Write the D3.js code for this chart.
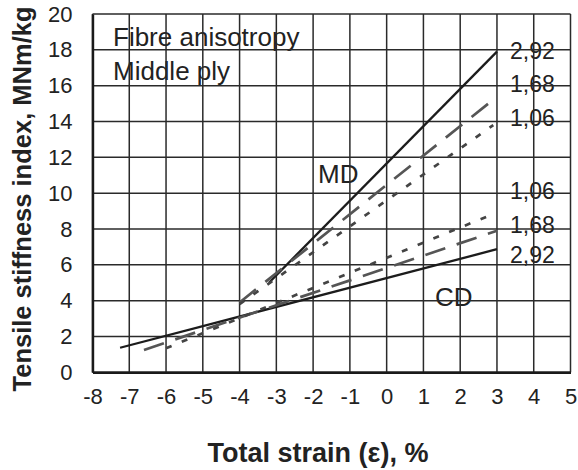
<!DOCTYPE html>
<html>
<head>
<meta charset="utf-8">
<script src="https://cdn.jsdelivr.net/npm/d3@7"></script>
<style>
  html, body { margin: 0; padding: 0; background: #fff; }
  svg { display: block; }
  text { font-family: "Liberation Sans", Arial, Helvetica, sans-serif; fill: #222; }
</style>
</head>
<body>
<svg id="chart" width="578" height="470"></svg>
<script>
// ---- data ----
const xTicks = [-8, -7, -6, -5, -4, -3, -2, -1, 0, 1, 2, 3, 4, 5];
const yTicks = [0, 2, 4, 6, 8, 10, 12, 14, 16, 18, 20];
const anisotropy = ["2,92", "1,68", "1,06"];

// MD curves (strain %, tensile stiffness index)
const md292x = [-3.2, 3.0];
const md292y = [5.0, 17.9];
const md168x = [-4.0, 2.95];
const md168y = [3.9, 15.3];
const md106x = [-4.0, 2.9];
const md106y = [3.8, 13.8];
// CD curves
const cd292x = [-7.25, 3.0];
const cd292y = [1.37, 6.87];
const cd168x = [-6.6, 3.0];
const cd168y = [1.25, 7.9];
const cd106x = [-6.0, 2.95];
const cd106y = [1.34, 8.88];

const series = [
  { dir: "MD", label: "2,92", xs: md292x, ys: md292y, style: "solid" },
  { dir: "MD", label: "1,68", xs: md168x, ys: md168y, style: "long" },
  { dir: "MD", label: "1,06", xs: md106x, ys: md106y, style: "short" },
  { dir: "CD", label: "2,92", xs: cd292x, ys: cd292y, style: "solid" },
  { dir: "CD", label: "1,68", xs: cd168x, ys: cd168y, style: "long" },
  { dir: "CD", label: "1,06", xs: cd106x, ys: cd106y, style: "short" }
];

// ---- layout ----
const svg = d3.select("#chart");
const pL = 92.5, pR = 570.5, pT = 14, pB = 372.3;
const x = d3.scaleLinear().domain([-8, 5]).range([pL, pR]);
const y = d3.scaleLinear().domain([0, 20]).range([pB, pT]);

const styles = {
  solid: { stroke: "#1c1c1c", width: 2.3, dash: null },
  long:  { stroke: "#555", width: 2.7, dash: "21,12" },
  short: { stroke: "#444", width: 2.7, dash: "6,11" }
};

// annotations (under grid, as in original)
const ann = svg.append("g").style("font-size", "26px");
ann.append("text").attr("x", 113).attr("y", 46).text("Fibre anisotropy");
ann.append("text").attr("x", 113).attr("y", 80).text("Middle ply");
ann.append("text").attr("x", 318).attr("y", 183).text("MD");
ann.append("text").attr("x", 435).attr("y", 306).text("CD");

// right-hand labels
const lab = svg.append("g").style("font-size", "23px");
const mdLab = [59, 92, 126];
const cdLab = [263, 233, 199];
anisotropy.forEach((a, i) => {
  lab.append("text").attr("x", 510).attr("y", mdLab[i]).text(a);
  lab.append("text").attr("x", 510).attr("y", cdLab[i]).text(a);
});

// grid
const grid = svg.append("g").attr("stroke", "#2a2a2a").attr("stroke-width", 1.5);
grid.selectAll("line.v").data(xTicks).enter().append("line")
  .attr("x1", d => x(d)).attr("x2", d => x(d))
  .attr("y1", y(0)).attr("y2", y(20));
grid.selectAll("line.h").data(yTicks).enter().append("line")
  .attr("x1", x(-8)).attr("x2", x(5))
  .attr("y1", d => y(d)).attr("y2", d => y(d));

// axes
const xAxis = d3.axisBottom(x).tickValues(xTicks).tickSize(0).tickPadding(16).tickFormat(d => d);
const yAxis = d3.axisLeft(y).tickValues(yTicks).tickSize(0).tickPadding(20).tickFormat(d => d);
const gx = svg.append("g").attr("transform", `translate(0,${pB})`).call(xAxis);
const gy = svg.append("g").attr("transform", `translate(${pL},0)`).call(yAxis);
[gx, gy].forEach(g => {
  g.select(".domain").attr("stroke", "#1a1a1a").attr("stroke-width", 2.4);
  g.selectAll("text").style("font-size", "22px").attr("fill", "#222")
    .style("font-family", '"Liberation Sans", Arial, sans-serif');
});
gx.selectAll("text").attr("dy", "0.71em");

// lines
const lineGen = d3.line().x(d => x(d[0])).y(d => y(d[1]));
svg.append("g").selectAll("path").data(series).enter().append("path")
  .attr("d", s => lineGen(s.xs.map((v, i) => [v, s.ys[i]])))
  .attr("fill", "none")
  .attr("stroke", s => styles[s.style].stroke)
  .attr("stroke-width", s => styles[s.style].width)
  .attr("stroke-dasharray", s => styles[s.style].dash);

// axis titles
svg.append("text")
  .attr("x", 318).attr("y", 462).attr("text-anchor", "middle")
  .style("font-size", "27px").style("font-weight", "bold")
  .text("Total strain (ε), %");
svg.append("text")
  .attr("transform", `translate(31,199) rotate(-90)`)
  .attr("text-anchor", "middle")
  .style("font-size", "25.5px").style("font-weight", "bold")
  .text("Tensile stiffness index, MNm/kg");
</script>
</body>
</html>
